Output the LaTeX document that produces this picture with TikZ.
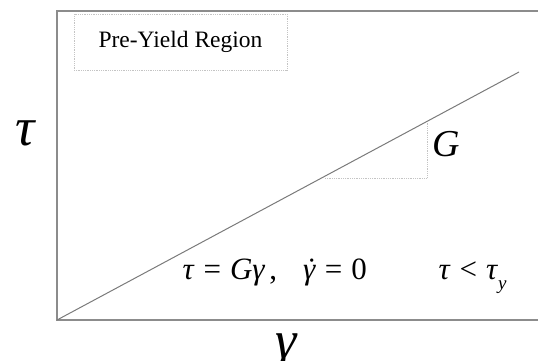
\documentclass[tikz,border=0pt]{standalone}
\usepackage{fontspec}
\setmainfont{Liberation Serif}
\usetikzlibrary{positioning}
\definecolor{axisgray}{HTML}{8C8C8C}
\definecolor{linegray}{HTML}{7A7A7A}
\definecolor{guidegray}{HTML}{C4C4C4}
\tikzset{
  every picture/.style={line width=1pt, text=black},
  axis/.style={draw=axisgray, line width=1.4pt},
  slope/.style={draw=linegray, line width=1pt},
  guide/.style={draw=guidegray, densely dotted, line width=0.8pt},
  regionbox/.style={draw=guidegray, densely dotted, line width=0.8pt, inner sep=0pt, font=\fontsize{23.5}{26}\selectfont},
  sym/.style={inner sep=0pt, font=\fontsize{54}{60}\selectfont\itshape},
  eq/.style={inner sep=0pt, anchor=base west, font=\fontsize{31}{36}\selectfont},
}
\newcommand{\gdot}{\makebox[0pt][l]{\hspace{3.5pt}˙}\textit{γ}}
\begin{document}
\begin{tikzpicture}[x=1pt, y=-1pt]
\useasboundingbox (0,0) rectangle (538,360);
\def\ox{57}\def\oy{320}\def\ty{11}
% axes
\coordinate (o) at (\ox,\oy);
\coordinate (top) at (\ox,\ty);
\coordinate (topend) at (538,\ty);
\coordinate (xend) at (538,\oy);
\draw[axis] (topend) -- (top) -- (o) -- (xend);
% elastic line and slope triangle
\coordinate (lineend) at (519,72);
\draw[slope] (o) -- (lineend);
\coordinate (ta) at (325,178);
\coordinate (tb) at (427,178);
\coordinate (tc) at (427,122);
\draw[guide] (ta) -- (tb) -- (tc);
\node[sym, font=\fontsize{38}{44}\selectfont\itshape, anchor=west] (glabel) at (432,144) {G};
% region label
\node[regionbox, minimum width=213pt, minimum height=56pt] (region) at (180.5,42) {Pre-Yield Region};
% axis symbols
\node[sym] (tau) at (25,133) {τ};
\node[sym, anchor=base] (gamma) at (286,358) {γ};
% equations
\node[eq] (law) at (182,279) {\textit{τ}\hspace{9pt}=\hspace{9pt}\textit{Gγ}\hspace{4pt},\hspace{26pt}\gdot\hspace{9pt}=\hspace{9pt}0};
\node[eq] (cond) at (438,279) {\textit{τ}\hspace{9pt}<\hspace{9pt}\textit{τ}\raisebox{-10pt}{\fontsize{19}{22}\selectfont\textit{y}}};
\end{tikzpicture}
\end{document}
